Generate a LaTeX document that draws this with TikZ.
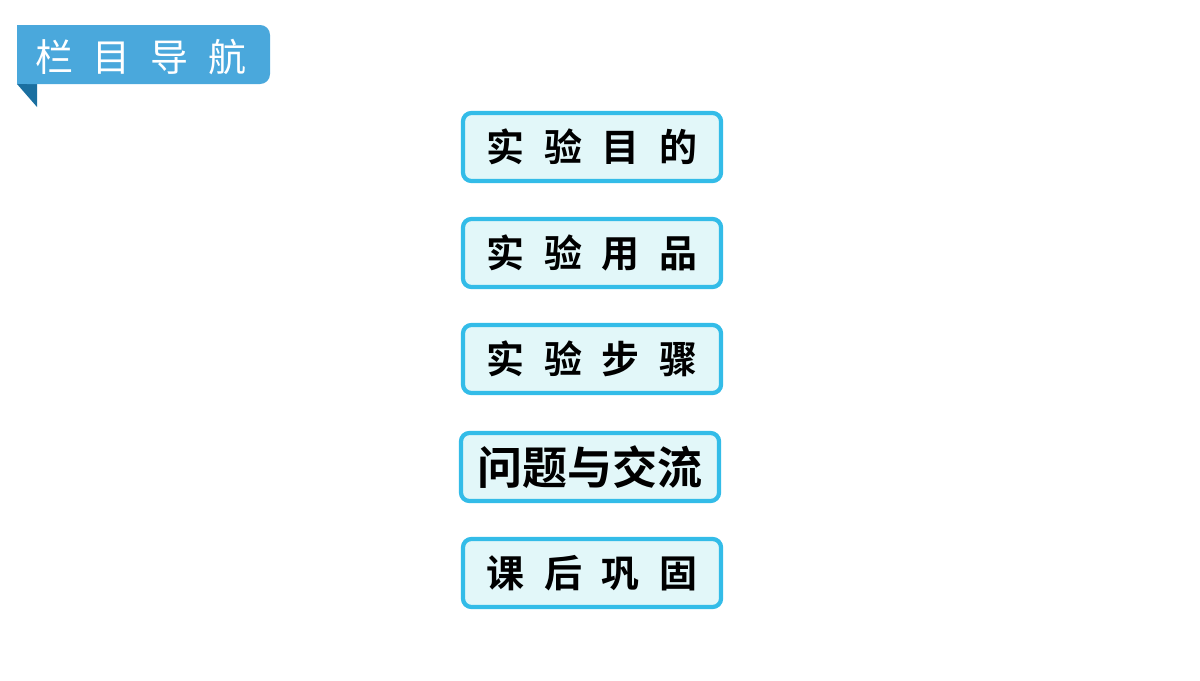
\documentclass[tikz,border=0pt]{standalone}
\usepackage{fontspec}
\newfontfamily\cjk{Noto Sans CJK SC}
\newfontfamily\cjkbold{Noto Sans CJK SC Bold}
\definecolor{bannerblue}{HTML}{4AA8DC}
\definecolor{folddark}{HTML}{1A6FA0}
\definecolor{boxline}{HTML}{33BCE8}
\definecolor{boxfill}{HTML}{E2F7F9}
\begin{document}
\begin{tikzpicture}[
    x=0.025cm, y=-0.025cm,
    menubox/.style={draw=boxline, line width=3pt, fill=boxfill, rounded corners=6pt,
      minimum width=6.45cm, minimum height=1.7cm, font=\cjkbold\fontsize{27}{29}\selectfont},
    every node/.style={inner sep=0pt}
  ]
  \useasboundingbox (0,0) rectangle (1200,680);

  % Banner
  \fill[folddark] (17,84) -- (37,84) -- (37,107) -- cycle;
  \fill[bannerblue, rounded corners=7pt] (17,25) -- (270,25) -- (270,84) -- (17,84) [sharp corners] -- cycle;
  \fill[bannerblue] (17,25) rectangle (40,84);
  \node[text=white, font=\cjk\fontsize{27}{29}\selectfont, anchor=west] (title) at (35,57) {栏\hspace{0.52em}目\hspace{0.52em}导\hspace{0.52em}航};

  % Menu
  \node[menubox] (aim)   at (592,147) {实\hspace{0.52em}验\hspace{0.52em}目\hspace{0.52em}的};
  \node[menubox] (tools) at (592,253) {实\hspace{0.52em}验\hspace{0.52em}用\hspace{0.52em}品};
  \node[menubox] (steps) at (592,359) {实\hspace{0.52em}验\hspace{0.52em}步\hspace{0.52em}骤};
  \node[menubox, font=\cjkbold\fontsize{32}{34}\selectfont] (talk) at (590,467) {问题与交流};
  \node[menubox] (rev)   at (592,573) {课\hspace{0.52em}后\hspace{0.52em}巩\hspace{0.52em}固};
\end{tikzpicture}
\end{document}
